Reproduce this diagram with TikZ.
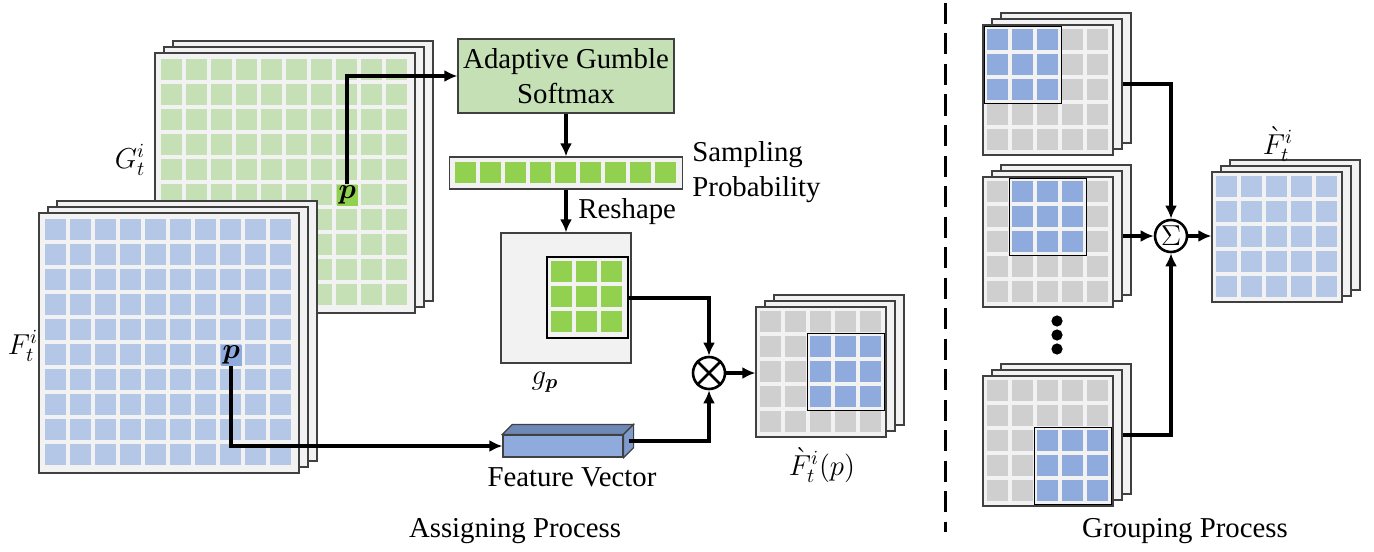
\documentclass[tikz,border=0pt]{standalone}
\usepackage{fontspec}
\setmainfont{Liberation Serif}
\usepackage{bm}
\usetikzlibrary{arrows.meta,calc}

\definecolor{sheetbg}{HTML}{F2F2F2}
\definecolor{sheetline}{HTML}{404040}
\definecolor{greenlight}{HTML}{C5E0B4}
\definecolor{greendark}{HTML}{92D050}
\definecolor{bluelight}{HTML}{B4C7E7}
\definecolor{bluemid}{HTML}{8FAADC}
\definecolor{cellgray}{HTML}{CFCFCF}
\definecolor{fvtop}{HTML}{6F89B6}
\definecolor{fvside}{HTML}{7F9BCE}

\tikzset{
  sheet/.style={draw=sheetline, fill=sheetbg, line width=0.6pt, inner sep=0pt, minimum size=#1},
  patch/.style={draw=black, fill=sheetbg, line width=0.6pt, inner sep=0pt},
  pcell/.style={inner sep=0pt, minimum size=10.5pt},
  link/.style={line width=2pt, -{Latex[length=6.5pt,width=6pt]}},
  opnode/.style={circle, draw, line width=1.3pt, fill=white, inner sep=0pt, minimum size=16pt},
  lbl/.style={inner sep=0pt}
}

% stack of three sheets: name, centre, size (pt), cells per side, cell colour
\newcommand{\fmstack}[5]{%
  \node[sheet=#3pt] (#1b) at ($(#2)+(18,-12)$) {};
  \node[sheet=#3pt] (#1m) at ($(#2)+(9,-6)$) {};
  \node[sheet=#3pt] (#1) at (#2) {};
  \pgfmathsetmacro{\fmmrg}{#3-12.5*#4+2}%
  \foreach \i in {1,...,#4}{%
    \foreach \j in {1,...,#4}{%
      \fill[#5] ([shift={(\fmmrg+25*\i-25,\fmmrg+25*\j-25)}]#1.north west) rectangle ++(21,21);
    }%
  }%
}
% 3x3 patch: first cell, pad, colour, frame name
\newcommand{\fmpatch}[4]{%
  \pgfmathsetmacro{\fmsz}{(71+2*#2)*0.5}%
  \node[patch, minimum size=\fmsz pt, anchor=north west] (#4) at ([shift={(-#2,-#2)}]#1) {};
  \foreach \i in {0,1,2}{%
    \foreach \j in {0,1,2}{%
      \fill[#3] ([shift={(25*\i,25*\j)}]#1) rectangle ++(21,21);
    }%
  }%
}

\begin{document}
\begin{tikzpicture}[x=0.5pt,y=-0.5pt,font=\fontsize{14.4}{17.5}\selectfont]
\useasboundingbox (0,0) rectangle (1374,551);

% assigning process
\fmstack{G}{285,183}{130}{10}{greenlight}
\node[pcell, fill=greendark, anchor=north west] (pg) at ([shift={(182,132)}]G.north west) {$\bm{p}$};
\node[lbl] (Glab) at (130,160) {$G_t^i$};

\fmstack{F}{169,343}{130}{10}{bluelight}
\node[pcell, fill=bluemid, anchor=north west] (pf) at ([shift={(182,132)}]F.north west) {$\bm{p}$};
\node[lbl] (Flab) at (23,346) {$F_t^i$};

\node[draw=sheetline, fill=greenlight, line width=0.6pt, minimum width=108pt, minimum height=37pt,
  align=center, inner sep=0pt] (soft) at (566,76) {Adaptive Gumble\\Softmax};

\node[draw=sheetline, fill=sheetbg, line width=0.6pt, minimum width=116.5pt, minimum height=16pt,
  inner sep=0pt] (bar) at (566,173) {};
\foreach \i in {0,...,8}
  \fill[greendark] ([shift={(6+25*\i,6)}]bar.north west) rectangle ++(21,21);
\node[lbl, anchor=west, align=left] (splab) at (692,172) {Sampling\\Probability};

\node[sheet=65pt] (gp) at (566,298) {};
\coordinate (gpc) at ([shift={(51,29)}]gp.north west);
\fmpatch{gpc}{5}{greendark}{gpin}
\node[lbl] (gplab) at (545,382) {$g_{\bm{p}}$};
\node[lbl, anchor=west] (rslab) at (578,212) {Reshape};

\node[draw=sheetline, fill=bluemid, line width=0.6pt, minimum width=60pt, minimum height=11pt,
  inner sep=0pt] (fv) at (563,446) {};
\draw[draw=sheetline, fill=fvtop, line width=0.6pt] (fv.north west) -- ([shift={(10,-10)}]fv.north west)
  -- ([shift={(10,-10)}]fv.north east) -- (fv.north east) -- cycle;
\draw[draw=sheetline, fill=fvside, line width=0.6pt] (fv.north east) -- ([shift={(10,-10)}]fv.north east)
  -- ([shift={(10,-10)}]fv.south east) -- (fv.south east) -- cycle;
\coordinate (fvout) at ([shift={(5,-5)}]fv.east);
\node[lbl] (fvlab) at (572,477) {Feature Vector};

\node[opnode] (mul) at (709,373) {};
\draw[line width=1.3pt] (mul.north west) -- (mul.south east) (mul.north east) -- (mul.south west);

\fmstack{out}{821,372}{65}{5}{cellgray}
\coordinate (oc) at ([shift={(54.5,29.5)}]out.north west);
\fmpatch{oc}{3}{bluemid}{opatch}
\node[lbl] (outlab) at (822,465) {$\grave{F}_t^i(p)$};

\draw[link] (pg.north) |- (soft.west);
\draw[link] (soft) -- (bar);
\draw[link] (bar) -- (gp);
\draw[link] (pf.south) |- (fv.west);
\draw[link] (gpin.east) -| (mul.north);
\draw[link] (fvout) -| (mul.south);
\draw[link] (mul.east) -- (mul.east -| out.west);

\node[lbl] (asg) at (515,531) {Assigning Process};

% separator
\coordinate (septop) at (945,3);
\coordinate (sepbot) at (945,532);
\draw[line width=1.5pt, dash pattern=on 10.5pt off 4.75pt] (septop) -- (sepbot);

% grouping process
\fmstack{ra}{1048,90}{65}{5}{cellgray}
\coordinate (rac) at ([shift={(4.5,4.5)}]ra.north west);
\fmpatch{rac}{3}{bluemid}{rapatch}

\fmstack{rb}{1048,242}{65}{5}{cellgray}
\coordinate (rbc) at ([shift={(29.5,4.5)}]rb.north west);
\fmpatch{rbc}{3}{bluemid}{rbpatch}

\fill (1057,321) circle[radius=2.8pt] (1057,335) circle[radius=2.8pt] (1057,349) circle[radius=2.8pt];

\fmstack{rc}{1048,441}{65}{5}{cellgray}
\coordinate (rcc) at ([shift={(54.5,54.5)}]rc.north west);
\fmpatch{rcc}{3}{bluemid}{rcpatch}

\fmstack{ro}{1277,237}{65}{5}{bluelight}
\node[lbl] (rolab) at (1278,144) {$\grave{F}_t^i$};

\node[opnode] (sum) at (1171,236) {$\Sigma$};
\draw[link] (ram.east) -| (sum.north);
\draw[link] (rbm.east) -- (sum.west);
\draw[link] (rcm.east) -| (sum.south);
\draw[link] (sum.east) -- (sum.east -| ro.west);

\node[lbl] (grp) at (1185,531) {Grouping Process};
\end{tikzpicture}
\end{document}
